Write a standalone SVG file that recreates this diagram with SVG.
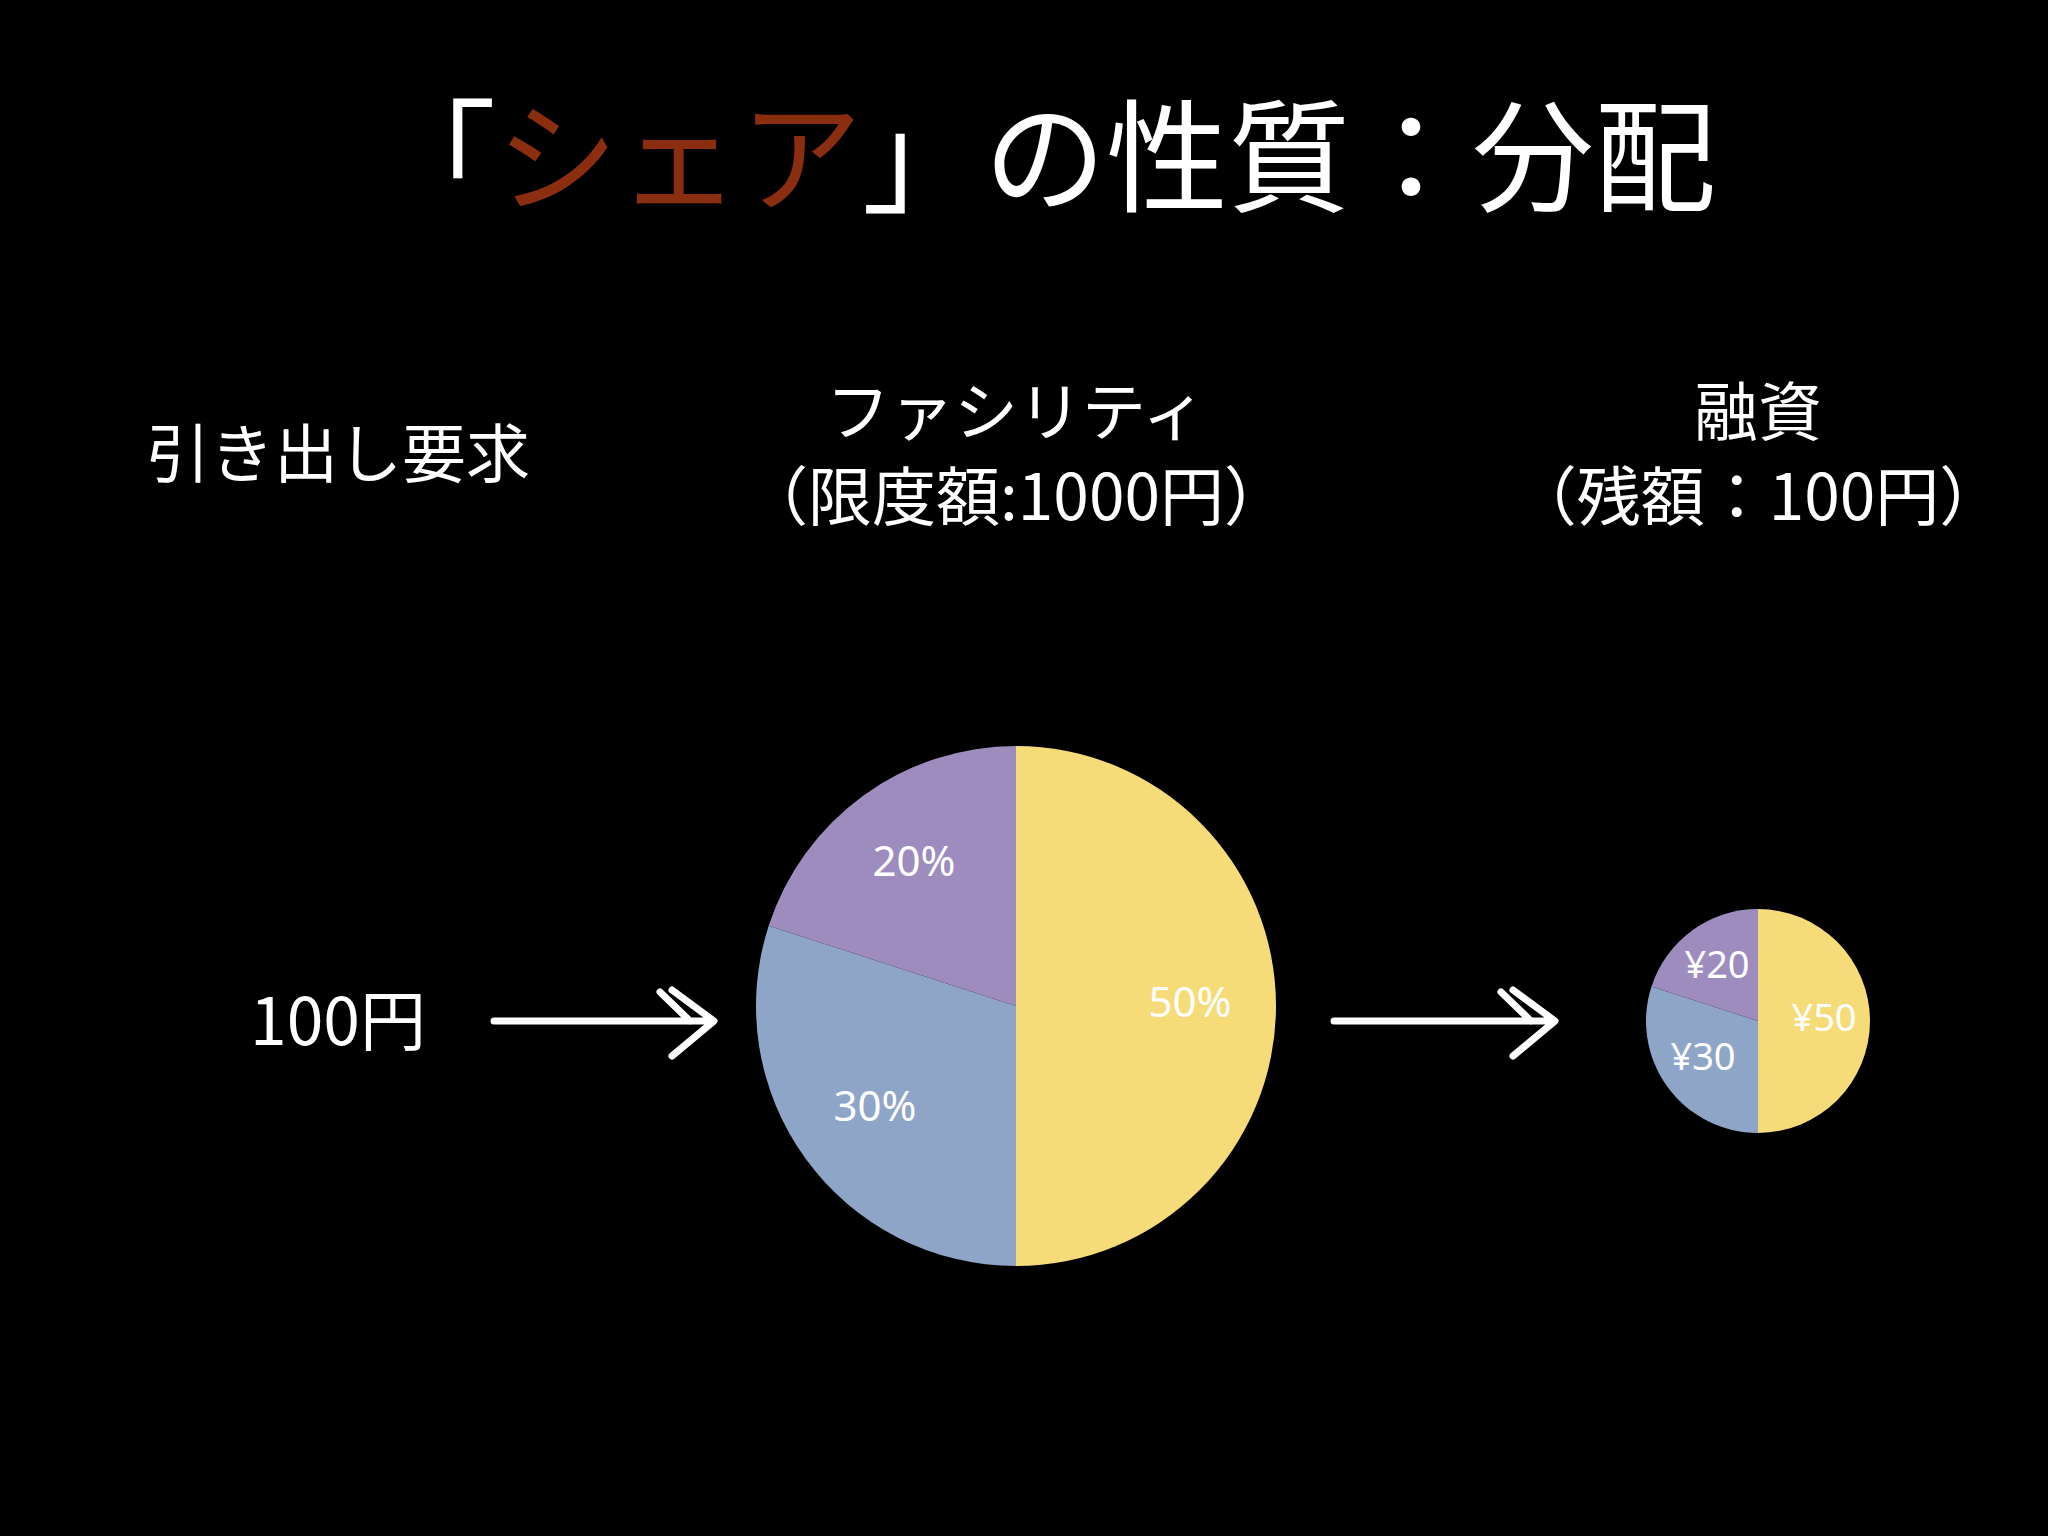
<svg xmlns="http://www.w3.org/2000/svg" width="2048" height="1536" viewBox="0 0 2048 1536">
<style>
.t{font-family:"Noto Sans CJK JP","Noto Sans",sans-serif;fill:#fff}
.p{font-family:"Noto Sans","Liberation Sans",sans-serif;fill:#fff;font-size:42px;text-anchor:middle;dominant-baseline:middle}
.s{font-size:38px}
.a{stroke:#fff;stroke-width:7;fill:none;stroke-linecap:round;stroke-linejoin:round}
</style>
<rect width="2048" height="1536" fill="#000"/>
<text class="t" x="1045" y="202" font-size="122" text-anchor="middle">「<tspan fill="#8b2e10">シェア</tspan>」の性質：分配</text>
<g id="label-request"><text class="t" x="338" y="477" font-size="64" text-anchor="middle">引き出し要求</text></g>
<g id="label-facility"><text class="t" x="1016" y="435" font-size="64" text-anchor="middle">ファシリティ</text>
<text class="t" x="1016" y="520" font-size="64" text-anchor="middle">（限度額:1000円）</text></g>
<g id="label-loan"><text class="t" x="1758" y="435" font-size="64" text-anchor="middle">融資</text>
<text class="t" x="1758" y="520" font-size="64" text-anchor="middle">（残額：100円）</text></g>
<g id="amount"><text class="t" x="338" y="1045" font-size="66" text-anchor="middle">100円</text></g>
<g id="pie-facility">
<path d="M1016 1006 V746 A260 260 0 0 1 1016 1266 Z" fill="#f5dc78"/>
<path d="M1016 1006 V1266 A260 260 0 0 1 768.7 925.7 Z" fill="#8fa5c8"/>
<path d="M1016 1006 L768.7 925.7 A260 260 0 0 1 1016 746 Z" fill="#9e8cbf"/>
<text class="p" x="914" y="865">20%</text>
<text class="p" x="1190" y="1006">50%</text>
<text class="p" x="875" y="1110">30%</text>
</g>
<g id="pie-loan">
<path d="M1758 1021 V909 A112 112 0 0 1 1758 1133 Z" fill="#f5dc78"/>
<path d="M1758 1021 V1133 A112 112 0 0 1 1651.5 986.4 Z" fill="#8fa5c8"/>
<path d="M1758 1021 L1651.5 986.4 A112 112 0 0 1 1758 909 Z" fill="#9e8cbf"/>
<text class="p s" x="1717" y="968">¥20</text>
<text class="p s" x="1824" y="1021">¥50</text>
<text class="p s" x="1703" y="1060">¥30</text>
</g>
<g id="connectors">
<path class="a" d="M494 1021 H712 M672 990 L714 1021 L672 1056 M660 992 L690 1021"/>
<path class="a" d="M1334 1021 H1553 M1513 990 L1555 1021 L1513 1056 M1501 992 L1531 1021"/>
</g>
</svg>
